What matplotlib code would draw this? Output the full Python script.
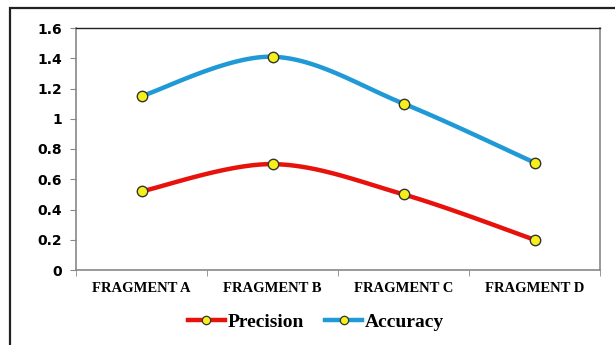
import numpy as np
import matplotlib
matplotlib.use("Agg")
from matplotlib import pyplot as plt
from matplotlib.patches import Rectangle

categories = ["FRAGMENT A", "FRAGMENT B", "FRAGMENT C", "FRAGMENT D"]
precision = [0.52, 0.70, 0.50, 0.20]
accuracy = [1.15, 1.41, 1.10, 0.71]
yticks = [0, 0.2, 0.4, 0.6, 0.8, 1, 1.2, 1.4, 1.6]
ytick_labels = ["0", "0.2", "0.4", "0.6", "0.8", "1", "1.2", "1.4", "1.6"]


def smooth(xs, ys, n=40):
    # catmull-rom style curve through the points, like excel's smoothed line
    p = np.column_stack([xs, ys]).astype(float)
    p = np.vstack([p[0], p, p[-1]])
    out = []
    t = np.linspace(0, 1, n)[:, None]
    for i in range(1, len(p) - 2):
        p0 = p[i]
        p3 = p[i + 1]
        p1 = p0 + (p[i + 1] - p[i - 1]) / 6.0
        p2 = p3 - (p[i + 2] - p[i]) / 6.0
        seg = (1 - t) ** 3 * p0 + 3 * (1 - t) ** 2 * t * p1 + 3 * (1 - t) * t ** 2 * p2 + t ** 3 * p3
        out.append(seg if i == 1 else seg[1:])
    out = np.vstack(out)
    return out[:, 0], out[:, 1]


fig = plt.figure(figsize=(6.15, 3.45), dpi=100)
fig.patch.set_facecolor("white")

# outer chart border (cut off at right / bottom in the reference)
fig.patches.append(Rectangle((10 / 615, -0.05), 1.0, (345 - 8) / 345 + 0.05,
                             transform=fig.transFigure, fill=False,
                             edgecolor="#222222", linewidth=1.6))

ax = fig.add_axes([76 / 615, 75 / 345, 524 / 615, 242 / 345])
x = np.arange(len(categories))

for vals, col, lab in [(precision, "#e8120c", "Precision"), (accuracy, "#1f9ad6", "Accuracy")]:
    sx, sy = smooth(x, vals)
    ax.plot(sx, sy, color=col, linewidth=3.2, solid_capstyle="round", zorder=2)
    ax.plot(x, vals, linestyle="none", marker="o", markersize=7.5,
            markerfacecolor="#f5f01a", markeredgecolor="#333333", markeredgewidth=1.0, zorder=3)
    ax.plot([], [], color=col, linewidth=3.2, marker="o", markersize=6,
            markerfacecolor="#f5f01a", markeredgecolor="#333333", markeredgewidth=0.9, label=lab)

ax.set_xlim(-0.5, 3.5)
ax.set_ylim(0, 1.6)
ax.set_yticks(yticks)
ax.set_yticklabels(ytick_labels, fontfamily="DejaVu Sans", fontweight="bold", fontsize=10)
ax.set_xticks(x)
ax.set_xticklabels(categories, fontfamily="Liberation Serif", fontweight="bold", fontsize=10.5)
ax.tick_params(axis="x", length=0, pad=9)
ax.tick_params(axis="y", length=4, color="#888888", pad=6)
ax.set_xticks(np.arange(-0.5, 4, 1.0), minor=True)
ax.tick_params(axis="x", which="minor", length=4, color="#888888")

for side in ["left", "bottom", "right"]:
    ax.spines[side].set_color("#888888")
    ax.spines[side].set_linewidth(1.2)
ax.spines["top"].set_color("#222222")
ax.spines["top"].set_linewidth(1.0)

fig.legend(loc="center", bbox_to_anchor=(316 / 615, (345 - 322) / 345),
           ncol=2, frameon=False, handlelength=1.9, columnspacing=1.1, handletextpad=0.15,
           prop={"family": "Liberation Serif", "weight": "bold", "size": 14})

fig.savefig("out.png", dpi=100, facecolor="white")
